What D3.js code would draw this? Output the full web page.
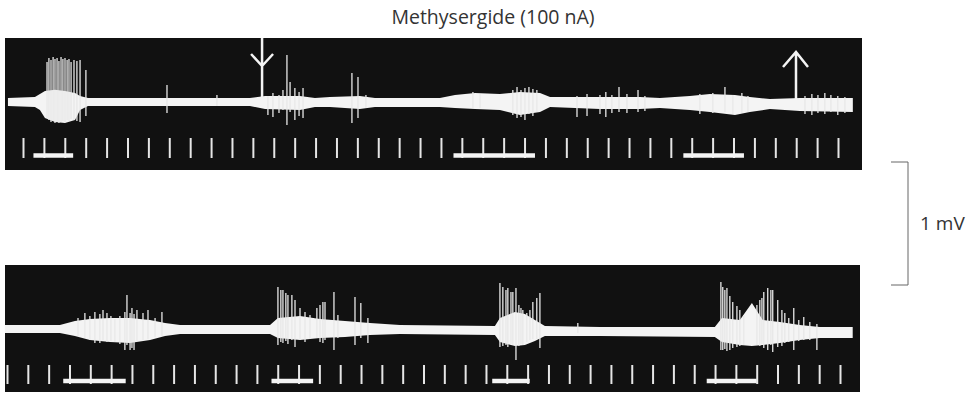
<!DOCTYPE html>
<html>
<head>
<meta charset="utf-8">
<script src="https://cdn.jsdelivr.net/npm/d3@7"></script>
<style>
  body { margin: 0; background: #fff; }
  svg { display: block; }
  .title, .unit { font-family: "Open Sans", "Lato", sans-serif; fill: #333; }
</style>
</head>
<body>
<div id="vis"></div>
<script>
// seconds on the time marker axis, amplitude in microvolts (1 mV scale bar)
const topTickTimes = d3.range(0, 40);
const bottomTickTimes = d3.range(0, 41);

// noise band of the trace: [t, upper uV, lower uV]
const topEnvelope = [
  [-0.72, 33, -33], [0.57, 41, -41], [0.81, 65, -65], [1.05, 90, -130], [1.53, 100, -163],
  [2.01, 90, -171], [2.49, 73, -146], [2.73, 49, -65], [3.11, 33, -33], [6.56, 33, -33],
  [10.86, 33, -33], [11.58, 49, -57], [13.25, 49, -65], [13.97, 33, -41], [14.69, 41, -41],
  [16.12, 49, -57], [16.84, 33, -41], [19.95, 33, -41], [20.67, 57, -49], [21.63, 73, -57],
  [22.82, 65, -65], [23.78, 81, -106], [24.74, 73, -81], [25.22, 41, -41], [27.61, 41, -57],
  [29.52, 41, -57], [30.48, 33, -49], [31.91, 49, -65], [32.87, 65, -81], [34.07, 57, -106],
  [34.78, 41, -81], [35.74, 24, -57], [37.18, 33, -73], [39.71, 33, -81]
];

const bottomEnvelope = [
  [-0.10, 33, -33], [2.54, 33, -33], [3.26, 65, -57], [3.98, 81, -89], [4.94, 89, -106],
  [5.90, 89, -114], [6.87, 73, -89], [7.59, 49, -57], [8.31, 33, -41], [12.63, 33, -41],
  [13.01, 89, -73], [14.07, 106, -89], [15.03, 81, -73], [16.23, 65, -65], [17.43, 49, -49],
  [18.87, 33, -41], [23.43, 24, -49], [23.67, 89, -106], [24.39, 138, -138], [24.87, 122, -130],
  [25.35, 73, -98], [25.83, 24, -57], [28.47, 16, -57], [33.99, 16, -65], [34.33, 89, -106],
  [35.19, 73, -130], [35.77, 211, -138], [36.29, 73, -130], [37.11, 57, -114], [38.07, 33, -89],
  [39.03, 16, -73], [40.61, 16, -73]
];

// unit spikes: [t, peak uV, trough uV]
const topSpikes = [
  [1.15, 325, -130], [1.24, 358, -146], [1.34, 341, -163], [1.44, 366, -154], [1.53, 350, -171],
  [1.63, 358, -163], [1.72, 333, -171], [1.82, 366, -163], [1.91, 350, -154], [2.01, 358, -163],
  [2.11, 341, -146], [2.20, 350, -154], [2.30, 325, -138], [2.44, 341, -146], [2.58, 333, -154],
  [2.73, 341, -163], [3.01, 260, -114], [6.89, 138, -89], [9.28, 57, -33],
  [11.72, 49, -106], [11.96, 73, -122], [12.25, 57, -89], [12.44, 98, -65], [12.63, 382, -187],
  [12.78, 163, -81], [13.01, 114, -146], [13.21, 81, -114], [13.40, 114, -130],
  [15.74, 236, -171], [16.03, 203, -130], [16.41, 57, -49],
  [21.53, 81, -49], [21.87, 65, -49], [23.44, 98, -106], [23.64, 122, -130], [23.83, 98, -122],
  [24.02, 114, -146], [24.21, 122, -98], [24.40, 106, -114], [24.59, 98, -81],
  [26.51, 49, -122], [26.99, 65, -114], [27.61, 57, -98], [27.89, 81, -122], [28.18, 57, -89],
  [28.52, 122, -81], [28.90, 65, -89], [29.43, 98, -81], [29.76, 49, -73],
  [32.39, 65, -98], [33.01, 73, -89], [33.59, 122, -81], [33.97, 57, -98], [34.40, 73, -89],
  [34.69, 49, -81], [37.42, 49, -98], [37.75, 65, -106], [38.04, 57, -89], [38.37, 73, -98],
  [38.66, 57, -81], [38.99, 49, -106], [39.33, 41, -89]
];

const bottomSpikes = [
  [3.41, 89, -57], [3.74, 130, -73], [3.98, 106, -89], [4.22, 138, -114], [4.46, 122, -114],
  [4.61, 154, -89], [4.80, 130, -106], [4.99, 106, -98], [5.18, 81, -106], [5.42, 106, -122],
  [5.66, 138, -171], [5.76, 276, -130], [5.91, 130, -171], [6.00, 171, -154], [6.10, 122, -171],
  [6.24, 154, -98], [6.53, 130, -89], [6.77, 154, -81], [7.11, 89, -65], [7.44, 138, -57],
  [13.01, 341, -130], [13.15, 317, -106], [13.25, 317, -114], [13.39, 293, -98], [13.49, 276, -122],
  [13.68, 276, -89], [13.83, 236, -146], [14.07, 171, -89], [14.31, 138, -106], [14.55, 114, -81],
  [14.88, 171, -73], [15.03, 195, -106], [15.17, 220, -114], [15.27, 220, -89], [15.70, 301, -171],
  [15.89, 114, -73], [16.71, 260, -130], [16.99, 211, -73], [17.33, 89, -114],
  [23.67, 374, -146], [23.81, 341, -138], [23.96, 317, -130], [24.05, 333, -146], [24.20, 301, -122],
  [24.29, 301, -130], [24.44, 333, -252], [24.58, 195, -138], [24.68, 171, -122], [24.77, 154, -130],
  [24.96, 130, -106], [25.11, 154, -89], [25.25, 220, -81], [25.44, 252, -81], [25.59, 293, -154],
  [27.41, 49, -33],
  [34.28, 382, -171], [34.37, 341, -171], [34.47, 317, -163], [34.57, 333, -179], [34.71, 268, -171],
  [34.85, 220, -154], [35.05, 187, -146], [35.19, 154, -138], [35.38, 114, -130], [36.01, 195, -130],
  [36.15, 236, -138], [36.25, 252, -122], [36.34, 301, -154], [36.53, 333, -171], [36.68, 317, -130],
  [36.77, 317, -187], [37.01, 236, -146], [37.21, 154, -138], [37.35, 130, -114], [37.54, 89, -106],
  [37.78, 171, -171], [38.02, 73, -98], [38.26, 98, -89], [38.55, 57, -89], [38.89, 41, -171]
];

// stimulus bars [start, end] in seconds
const topBars = [[0.5, 2.4], [20.6, 24.5], [31.6, 34.5]];
const bottomBars = [[2.7, 5.7], [12.7, 14.7], [23.3, 25.1], [33.6, 36.0]];

// drug application on / off (top record)
const drugOn = 11.44;
const drugOff = 36.99;

const width = 969, height = 394;
const pxPerMV = 123;

const svg = d3.select("#vis").append("svg")
  .attr("width", width)
  .attr("height", height);

svg.append("text")
  .attr("class", "title")
  .attr("x", 493)
  .attr("y", 24)
  .attr("text-anchor", "middle")
  .attr("font-size", "19.5px")
  .text("Methysergide (100 nA)");

function drawPanel(cfg) {
  const g = svg.append("g");

  g.append("rect")
    .attr("x", cfg.box[0]).attr("y", cfg.box[1])
    .attr("width", cfg.box[2] - cfg.box[0]).attr("height", cfg.box[3] - cfg.box[1])
    .attr("fill", "#111");

  const x = d3.scaleLinear().domain(cfg.tDomain).range(cfg.xRange);
  const y = d3.scaleLinear().domain([0, 1000]).range([cfg.zero, cfg.zero - pxPerMV]);

  // noise band
  const area = d3.area()
    .x(d => x(d[0]))
    .y0(d => y(d[2]))
    .y1(d => y(d[1]));
  g.append("path")
    .datum(cfg.envelope)
    .attr("d", area)
    .attr("fill", "#f4f4f4");

  // spikes
  g.selectAll(".spike")
    .data(cfg.spikes)
    .enter()
    .append("line")
      .attr("class", "spike")
      .attr("x1", d => x(d[0]))
      .attr("x2", d => x(d[0]))
      .attr("y1", d => y(d[1]))
      .attr("y2", d => y(d[2]))
      .attr("stroke", "#e8e8e8")
      .attr("stroke-width", 1.3);

  // time markers
  const axis = g.append("g")
    .attr("transform", "translate(0," + cfg.tickY + ")")
    .call(d3.axisBottom(x).tickValues(cfg.ticks).tickSize(cfg.tickLen).tickFormat(""));
  axis.select(".domain").remove();
  axis.selectAll(".tick line")
    .attr("stroke", "#e6e6e6")
    .attr("stroke-width", 2);

  // stimulus bars
  g.selectAll(".bar")
    .data(cfg.bars)
    .enter()
    .append("line")
      .attr("class", "bar")
      .attr("x1", d => x(d[0]))
      .attr("x2", d => x(d[1]))
      .attr("y1", cfg.barY)
      .attr("y2", cfg.barY)
      .attr("stroke", "#f4f4f4")
      .attr("stroke-width", 4.5);

  return {g: g, x: x, y: y};
}

const topPanel = drawPanel({
  box: [5, 38, 862, 170],
  tDomain: [0, 39], xRange: [23, 838],
  zero: 102,
  envelope: topEnvelope, spikes: topSpikes,
  ticks: topTickTimes, tickY: 138, tickLen: 20,
  bars: topBars, barY: 155.5
});

const bottomPanel = drawPanel({
  box: [5, 265, 860, 392],
  tDomain: [0, 40], xRange: [7, 840],
  zero: 329,
  envelope: bottomEnvelope, spikes: bottomSpikes,
  ticks: bottomTickTimes, tickY: 365, tickLen: 19,
  bars: bottomBars, barY: 381
});

// drug markers
const ax = topPanel.x(drugOn);
topPanel.g.append("path")
  .attr("d", "M" + ax + ",38 V" + topPanel.y(-20) +
    " M" + (ax - 11) + ",54 L" + ax + ",66 L" + (ax + 11) + ",54")
  .attr("fill", "none").attr("stroke", "#f4f4f4").attr("stroke-width", 2.5);

const bx = topPanel.x(drugOff);
topPanel.g.append("path")
  .attr("d", "M" + bx + "," + topPanel.y(0) + " V52" +
    " M" + (bx - 13) + ",67 L" + bx + ",52 L" + (bx + 12) + ",67")
  .attr("fill", "none").attr("stroke", "#f4f4f4").attr("stroke-width", 2.5);

// 1 mV calibration
const calTop = 162;
svg.append("path")
  .attr("d", "M891," + calTop + " H908 V" + (calTop + pxPerMV) + " H891")
  .attr("fill", "none")
  .attr("stroke", "#666")
  .attr("stroke-width", 1);

svg.append("text")
  .attr("class", "unit")
  .attr("x", 920)
  .attr("y", 230)
  .attr("font-size", "19px")
  .text("1 mV");
</script>
</body>
</html>
